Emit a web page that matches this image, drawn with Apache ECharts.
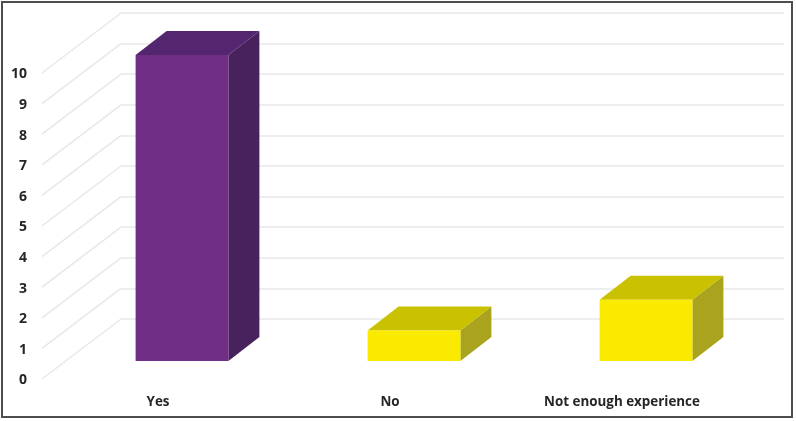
<!DOCTYPE html>
<html>
<head>
<meta charset="utf-8">
<style>
  html, body { margin: 0; padding: 0; background: #fff; }
  #chart { width: 796px; height: 421px; }
</style>
</head>
<body>
<div id="chart"></div>
<script src="https://cdn.jsdelivr.net/npm/echarts@6/dist/echarts.min.js"></script>
<script>
const categories = ['Yes', 'No', 'Not enough experience']
const answers = [10, 1, 2]
const ticks = [0, 1, 2, 3, 4, 5, 6, 7, 8, 9, 10]

// front, top, side
const purple = ['#702F84', '#54266F', '#47225C']
const yellow = ['#F9EA00', '#CAC200', '#A9A31E']
const barFaces = [purple, yellow, yellow]

// floor depth in pixels: the back wall sits wallX/wallY away from the axis plane
const wallX = 79
const wallY = 60
const barShiftX = 24
const barShiftY = 18
const barDepthX = 31
const barDepthY = 24
const labelFont = { fontFamily: 'Open Sans', fontWeight: 'bold', fontSize: 13.4, color: '#262626' }

const chart = echarts.init(document.getElementById('chart'))

const renderWall = (params, api) => {
  const start = api.coord([0, api.value(0)])
  const x = params.coordSys.x
  return {
    type: 'line',
    shape: { x1: x, y1: start[1], x2: x + wallX, y2: start[1] - wallY },
    style: { stroke: '#e8e8e8', lineWidth: 1.5, fill: null }
  }
}

const renderBar = (params, api) => {
  const index = api.value(0)
  const top = api.coord([index, api.value(1)])
  const bottom = api.coord([index, 0])
  const width = api.size([1, 0])[0] * 0.4
  const faces = barFaces[index]
  const x1 = top[0] - width / 2 + barShiftX
  const x2 = x1 + width
  const y1 = top[1] - barShiftY
  const y2 = bottom[1] - barShiftY
  const dx = barDepthX
  const dy = barDepthY
  return {
    type: 'group',
    children: [
      {
        type: 'polygon',
        shape: { points: [[x2, y1], [x2 + dx, y1 - dy], [x2 + dx, y2 - dy], [x2, y2]] },
        style: { fill: faces[2] }
      },
      {
        type: 'polygon',
        shape: { points: [[x1, y1], [x1 + dx, y1 - dy], [x2 + dx, y1 - dy], [x2, y1]] },
        style: { fill: faces[1] }
      },
      {
        type: 'rect',
        shape: { x: x1, y: y1, width: width, height: y2 - y1 },
        style: { fill: faces[0] }
      }
    ]
  }
}

chart.setOption({
  animation: false,
  backgroundColor: '#fff',
  graphic: [{
    type: 'rect',
    silent: true,
    shape: { x: 2, y: 2, width: 790, height: 415 },
    style: { fill: null, stroke: '#4d4d4d', lineWidth: 2 }
  }],
  grid: [
    { left: 42, top: 73, width: 696, height: 306 },
    { left: 121, top: 13, width: 663, height: 306 }
  ],
  xAxis: [
    {
      type: 'category',
      gridIndex: 0,
      data: categories,
      axisLine: { show: false },
      axisTick: { show: false },
      axisLabel: { ...labelFont, margin: 17, interval: 0 }
    },
    { type: 'value', gridIndex: 1, min: 0, max: 1, show: false }
  ],
  yAxis: [
    {
      type: 'value',
      gridIndex: 0,
      min: 0,
      max: 10,
      interval: 1,
      axisLine: { show: false },
      axisTick: { show: false },
      splitLine: { show: false },
      // small line box aligned from its top nudges the digits down to sit as in the reference
      axisLabel: { ...labelFont, fontSize: 14, margin: 15, verticalAlign: 'top', lineHeight: 3 }
    },
    {
      type: 'value',
      gridIndex: 1,
      min: 0,
      max: 10,
      interval: 1,
      axisLine: { show: false },
      axisTick: { show: false },
      axisLabel: { show: false },
      splitLine: { show: true, lineStyle: { color: '#e8e8e8', width: 1.5 } }
    }
  ],
  series: [
    {
      type: 'custom',
      xAxisIndex: 0,
      yAxisIndex: 0,
      silent: true,
      clip: false,
      renderItem: renderWall,
      encode: { y: 0 },
      data: ticks.map((t) => [t])
    },
    {
      type: 'custom',
      xAxisIndex: 0,
      yAxisIndex: 0,
      clip: false,
      z: 5,
      renderItem: renderBar,
      encode: { x: 0, y: 1 },
      data: answers.map((v, i) => [i, v])
    }
  ]
})
</script>
</body>
</html>
